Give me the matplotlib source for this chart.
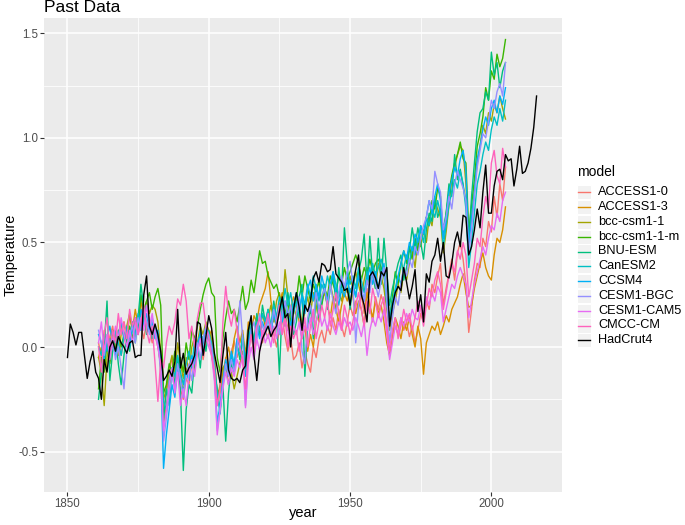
import matplotlib
matplotlib.use("Agg")
import matplotlib.pyplot as plt
import numpy as np
from matplotlib.lines import Line2D
from matplotlib.patches import Rectangle

plt.rcParams['font.family'] = ['Liberation Sans', 'DejaVu Sans']

# ---------------- data ----------------
model_years = list(range(1861, 2006))
obs_years = list(range(1850, 2017))

model_names = ["ACCESS1-0", "ACCESS1-3", "bcc-csm1-1", "bcc-csm1-1-m", "BNU-ESM",
               "CanESM2", "CCSM4", "CESM1-BGC", "CESM1-CAM5", "CMCC-CM", "HadCrut4"]
model_colors = ["#F8766D", "#D89000", "#A3A500", "#39B600", "#00BF7D",
                "#00BFC4", "#00B0F6", "#9590FF", "#E76BF3", "#FF62BC", "#000000"]

access1_0 = [0.02, -0.05, 0.08, -0.02, 0.05, 0.10, 0.00, 0.06, -0.04, 0.03,
             0.08, 0.02, 0.12, 0.05, 0.15, 0.10, 0.04, 0.12, 0.08, 0.02,
             0.06, 0.00, -0.08, -0.30, -0.22, -0.12, -0.05, -0.15, -0.10, -0.20,
             -0.25, -0.15, -0.18, -0.08, -0.12, -0.02, 0.03, -0.06, 0.02, 0.05,
             -0.02, -0.10, -0.28, -0.22, -0.15, -0.05, -0.10, -0.02, 0.03, -0.05,
             0.00, -0.08, -0.12, 0.02, 0.06, -0.03, 0.05, 0.10, 0.02, 0.08,
             0.04, 0.12, 0.06, 0.00, 0.08, 0.14, 0.05, -0.02, 0.04, -0.06,
             -0.04, 0.02, -0.10, -0.02, -0.08, -0.12, 0.00, -0.05, 0.04, 0.08,
             0.02, 0.10, 0.06, 0.14, 0.08, 0.18, 0.10, 0.05, 0.12, 0.20,
             0.15, 0.22, 0.18, 0.25, 0.16, 0.28, 0.20, 0.12, 0.24, 0.18,
             0.25, 0.20, 0.10, -0.02, 0.05, 0.10, 0.06, 0.14, 0.08, 0.12,
             0.05, 0.10, 0.02, 0.08, 0.16, 0.12, 0.22, 0.18, 0.30, 0.26,
             0.34, 0.40, 0.20, 0.28, 0.35, 0.42, 0.32, 0.45, 0.50, 0.42,
             0.30, 0.07, 0.18, 0.32, 0.40, 0.38, 0.52, 0.48, 0.60, 0.55,
             0.72, 0.62, 0.78, 0.70, 0.86]

access1_3 = [-0.05, 0.00, -0.08, 0.05, -0.02, 0.08, 0.03, -0.04, 0.06, 0.12,
             0.04, 0.15, 0.08, 0.18, 0.10, 0.22, 0.14, 0.20, 0.12, 0.06,
             0.10, 0.02, -0.10, -0.38, -0.28, -0.20, -0.12, -0.18, -0.06, -0.14,
             -0.22, -0.10, -0.16, -0.05, -0.10, 0.00, 0.06, 0.02, 0.10, 0.05,
             0.08, -0.05, -0.22, -0.20, -0.12, -0.06, 0.00, -0.08, 0.04, 0.10,
             0.02, 0.08, -0.04, 0.12, 0.06, 0.15, 0.12, 0.20, 0.24, 0.28,
             0.36, 0.22, 0.14, 0.10, 0.20, 0.26, 0.16, 0.08, 0.18, 0.24,
             0.20, 0.12, 0.04, 0.10, -0.02, 0.06, 0.00, 0.12, 0.18, 0.22,
             0.26, 0.20, 0.14, 0.24, 0.18, 0.12, 0.20, 0.26, 0.22, 0.28,
             0.24, 0.16, 0.22, 0.18, 0.10, 0.26, 0.20, 0.14, 0.22, 0.16,
             0.20, 0.12, 0.02, -0.04, 0.06, 0.14, 0.10, 0.04, 0.12, 0.08,
             0.14, 0.06, 0.00, 0.10, 0.04, -0.13, 0.02, 0.06, 0.10, 0.08,
             0.12, 0.06, 0.10, 0.15, 0.12, 0.18, 0.21, 0.24, 0.30, 0.35,
             0.26, 0.19, 0.20, 0.28, 0.34, 0.40, 0.45, 0.38, 0.34, 0.32,
             0.44, 0.52, 0.50, 0.56, 0.67]

bcc_csm1_1 = [-0.05, -0.12, -0.28, -0.05, 0.02, 0.08, -0.02, 0.06, 0.12, 0.04,
              0.10, 0.16, 0.08, 0.14, 0.06, 0.18, 0.12, 0.22, 0.16, 0.20,
              0.18, 0.12, -0.02, -0.25, -0.20, -0.10, -0.04, -0.12, 0.02, -0.08,
              -0.15, -0.05, -0.12, 0.00, 0.05, 0.02, 0.10, 0.06, 0.12, 0.08,
              0.04, -0.06, -0.25, -0.18, -0.10, -0.08, -0.18, -0.12, -0.20, -0.14,
              -0.08, -0.02, -0.10, 0.04, 0.10, 0.02, 0.12, 0.06, 0.16, 0.10,
              0.14, 0.20, 0.12, 0.22, 0.26, 0.18, 0.37, 0.24, 0.16, 0.20,
              0.14, 0.22, 0.10, 0.18, 0.24, 0.16, 0.26, 0.20, 0.12, 0.22,
              0.28, 0.20, 0.30, 0.24, 0.18, 0.26, 0.22, 0.30, 0.26, 0.34,
              0.28, 0.36, 0.30, 0.24, 0.32, 0.38, 0.30, 0.36, 0.28, 0.40,
              0.34, 0.28, 0.18, 0.08, 0.16, 0.22, 0.30, 0.26, 0.36, 0.32,
              0.40, 0.46, 0.38, 0.52, 0.48, 0.56, 0.50, 0.62, 0.58, 0.70,
              0.66, 0.62, 0.45, 0.55, 0.68, 0.80, 0.86, 0.92, 0.96, 0.94,
              0.78, 0.52, 0.62, 0.74, 0.88, 0.96, 1.06, 1.02, 1.12, 1.08,
              1.16, 1.12, 1.20, 1.14, 1.09]

bcc_csm1_1_m = [-0.20, -0.05, -0.12, 0.02, -0.08, 0.04, -0.02, 0.08, 0.00, 0.06,
                0.02, 0.10, 0.04, 0.12, 0.08, 0.25, 0.18, 0.22, 0.26, 0.18,
                0.24, 0.28, 0.20, -0.22, -0.18, -0.08, -0.12, -0.02, -0.10, -0.05,
                -0.12, 0.02, -0.06, 0.08, 0.04, 0.10, 0.18, 0.25, 0.30, 0.33,
                0.26, 0.24, -0.05, -0.12, 0.04, 0.14, 0.22, 0.16, 0.18, 0.12,
                0.20, 0.29, 0.18, 0.22, 0.32, 0.26, 0.36, 0.46, 0.40, 0.41,
                0.34, 0.31, 0.28, 0.30, 0.24, 0.20, 0.16, 0.22, 0.12, 0.18,
                0.22, 0.34, 0.24, 0.34, 0.28, 0.22, 0.30, 0.26, 0.32, 0.20,
                0.28, 0.24, 0.34, 0.30, 0.26, 0.34, 0.30, 0.38, 0.32, 0.36,
                0.40, 0.44, 0.40, 0.32, 0.38, 0.34, 0.42, 0.36, 0.40, 0.42,
                0.38, 0.34, 0.22, 0.14, 0.24, 0.36, 0.30, 0.40, 0.46, 0.40,
                0.48, 0.42, 0.52, 0.46, 0.58, 0.54, 0.62, 0.58, 0.70, 0.66,
                0.76, 0.72, 0.52, 0.64, 0.74, 0.82, 0.88, 0.92, 0.98, 0.90,
                0.88, 0.55, 0.68, 0.80, 0.96, 1.02, 1.10, 1.24, 1.18, 1.32,
                1.28, 1.40, 1.34, 1.38, 1.47]

bnu_esm = [-0.25, -0.12, 0.00, 0.22, -0.16, -0.02, 0.06, -0.08, -0.18, -0.04,
           0.06, -0.02, 0.10, 0.02, 0.14, 0.30, 0.18, 0.06, 0.12, 0.04,
           0.10, 0.02, -0.08, -0.35, -0.20, -0.28, -0.10, -0.18, -0.05, -0.22,
           -0.59, -0.30, -0.18, -0.22, -0.05, 0.02, -0.10, 0.05, -0.02, 0.08,
           0.00, -0.12, -0.20, -0.30, -0.18, -0.45, -0.22, -0.08, -0.12, 0.02,
           -0.06, 0.04, -0.10, 0.08, 0.12, 0.02, 0.16, 0.06, 0.20, 0.12,
           0.18, 0.08, 0.22, 0.14, -0.13, 0.20, 0.10, 0.26, 0.16, 0.06,
           0.12, 0.24, 0.30, -0.14, 0.10, 0.20, 0.04, 0.26, 0.14, 0.22,
           0.30, 0.18, 0.28, 0.34, 0.22, 0.38, 0.26, 0.57, 0.40, 0.18,
           0.30, 0.24, 0.36, 0.42, 0.54, 0.30, 0.53, 0.34, 0.28, 0.52,
           0.30, 0.52, 0.36, 0.20, 0.28, 0.34, 0.40, 0.44, 0.32, 0.38,
           0.46, 0.57, 0.48, 0.57, 0.50, 0.42, 0.56, 0.64, 0.60, 0.72,
           0.62, 0.66, 0.56, 0.64, 0.78, 0.72, 0.92, 0.80, 0.85, 0.77,
           0.70, 0.50, 0.72, 0.88, 1.03, 1.12, 1.14, 1.22, 1.18, 1.41,
           1.30, 1.36, 1.24, 1.32, 1.36]

canesm2 = [0.00, -0.04, 0.06, -0.02, 0.04, 0.00, 0.08, 0.02, -0.04, 0.05,
           0.10, 0.04, 0.12, 0.06, 0.16, 0.08, 0.14, 0.20, 0.12, 0.06,
           0.10, 0.04, -0.06, -0.26, -0.30, -0.16, -0.10, -0.14, -0.04, -0.12,
           -0.18, -0.08, -0.02, -0.10, 0.04, -0.02, 0.08, 0.02, 0.10, 0.06,
           0.02, -0.08, -0.22, -0.32, -0.18, -0.08, -0.14, -0.04, -0.10, 0.00,
           -0.04, 0.06, -0.06, 0.04, 0.10, 0.02, 0.12, 0.08, 0.16, 0.12,
           0.18, 0.10, 0.20, 0.14, 0.24, 0.18, 0.28, 0.20, 0.26, 0.16,
           0.22, 0.14, 0.26, 0.20, 0.30, 0.24, 0.34, 0.28, 0.22, 0.30,
           0.26, 0.34, 0.28, 0.36, 0.30, 0.24, 0.32, 0.28, 0.36, 0.30,
           0.34, 0.28, 0.38, 0.32, 0.26, 0.36, 0.30, 0.40, 0.34, 0.38,
           0.42, 0.36, 0.20, 0.14, 0.22, 0.28, 0.34, 0.30, 0.38, 0.44,
           0.40, 0.48, 0.44, 0.52, 0.56, 0.50, 0.62, 0.58, 0.66, 0.62,
           0.70, 0.64, 0.48, 0.58, 0.68, 0.74, 0.80, 0.76, 0.84, 0.78,
           0.66, 0.38, 0.50, 0.64, 0.78, 0.84, 0.92, 0.98, 0.94, 1.04,
           1.10, 1.06, 1.14, 1.08, 1.18]

ccsm4 = [0.06, 0.02, -0.06, 0.04, 0.10, 0.02, -0.04, 0.06, 0.12, 0.04,
         0.08, 0.00, 0.10, 0.14, 0.06, 0.18, 0.10, 0.16, 0.08, 0.12,
         0.04, 0.08, -0.10, -0.58, -0.42, -0.30, -0.18, -0.24, -0.10, -0.16,
         -0.22, -0.12, -0.16, -0.04, -0.08, 0.02, 0.06, -0.02, 0.08, 0.04,
         -0.02, -0.14, -0.36, -0.28, -0.16, -0.06, -0.12, -0.02, -0.08, 0.04,
         0.00, -0.06, -0.14, 0.02, 0.08, 0.00, 0.10, 0.04, 0.12, 0.08,
         0.14, 0.06, 0.16, 0.10, 0.20, 0.12, 0.22, 0.16, 0.10, 0.20,
         0.26, 0.18, 0.24, 0.16, 0.28, 0.32, 0.22, 0.30, 0.24, 0.34,
         0.28, 0.22, 0.30, 0.36, 0.26, 0.20, 0.28, 0.24, 0.32, 0.26,
         0.30, 0.24, 0.34, 0.28, 0.22, 0.32, 0.38, 0.30, 0.36, 0.28,
         0.34, 0.40, 0.24, 0.12, 0.18, 0.26, 0.34, 0.40, 0.46, 0.42,
         0.50, 0.46, 0.54, 0.50, 0.58, 0.54, 0.62, 0.70, 0.64, 0.72,
         0.78, 0.70, 0.52, 0.62, 0.74, 0.80, 0.86, 0.82, 0.90, 0.94,
         0.84, 0.48, 0.62, 0.74, 0.90, 0.96, 1.04, 1.10, 1.06, 1.14,
         1.18, 1.12, 1.20, 1.16, 1.24]

cesm1_bgc = [0.08, 0.02, -0.04, 0.06, -0.02, 0.04, -0.06, 0.00, -0.10, -0.20,
             -0.02, 0.06, 0.10, 0.02, 0.14, 0.08, 0.18, 0.12, 0.06, 0.14,
             0.08, 0.02, -0.12, -0.45, -0.34, -0.22, -0.14, -0.20, -0.08, -0.16,
             -0.24, -0.14, -0.08, -0.16, -0.04, 0.02, -0.06, 0.04, 0.10, 0.06,
             0.00, -0.10, -0.40, -0.30, -0.18, -0.08, -0.14, -0.06, -0.12, -0.02,
             0.22, 0.04, -0.28, -0.04, 0.08, 0.12, 0.04, 0.16, 0.10, 0.06,
             0.14, 0.08, 0.18, 0.12, 0.06, 0.16, 0.22, 0.14, 0.20, 0.10,
             0.16, 0.24, -0.02, -0.08, 0.14, 0.20, 0.12, 0.26, 0.18, 0.24,
             0.28, 0.20, 0.30, 0.22, 0.16, 0.26, 0.34, 0.28, 0.36, 0.41,
             0.30, 0.02, 0.20, 0.28, 0.22, 0.32, 0.26, 0.36, 0.30, 0.24,
             0.32, 0.38, 0.22, 0.02, 0.14, 0.24, 0.20, 0.30, 0.38, 0.34,
             0.42, 0.38, 0.48, 0.44, 0.52, 0.58, 0.62, 0.70, 0.66, 0.84,
             0.78, 0.74, 0.56, 0.62, 0.72, 0.66, 0.78, 0.84, 0.80, 0.76,
             0.70, 0.45, 0.56, 0.72, 0.86, 0.94, 1.02, 1.00, 1.08, 1.18,
             1.14, 1.22, 1.26, 1.20, 1.36]

cesm1_cam5 = [0.02, 0.12, -0.02, 0.06, -0.06, 0.02, 0.10, 0.04, 0.14, 0.06,
              0.00, 0.08, 0.02, 0.12, 0.06, 0.14, 0.08, 0.20, 0.10, 0.16,
              0.06, 0.00, -0.08, -0.40, -0.30, -0.18, -0.10, -0.22, -0.12, -0.28,
              -0.20, -0.28, -0.12, -0.06, -0.14, -0.02, 0.04, -0.04, 0.06, 0.00,
              -0.04, -0.16, -0.42, -0.30, -0.20, -0.12, -0.18, -0.10, -0.14, -0.06,
              -0.10, -0.04, -0.29, -0.08, 0.00, -0.06, 0.04, -0.02, 0.08, 0.02,
              0.06, 0.00, 0.10, 0.04, 0.12, 0.06, 0.14, 0.08, 0.02, 0.10,
              0.06, 0.12, 0.04, 0.10, 0.08, 0.14, 0.06, 0.12, 0.18, 0.10,
              0.14, 0.08, 0.16, 0.10, 0.06, 0.12, 0.08, 0.14, 0.10, 0.12,
              0.08, 0.14, 0.10, 0.05, 0.12, -0.04, 0.08, 0.14, 0.10, 0.16,
              0.12, 0.18, 0.06, -0.06, 0.02, 0.10, 0.06, 0.14, 0.10, 0.16,
              0.12, 0.18, 0.14, 0.13, 0.20, 0.16, 0.24, 0.20, 0.26, 0.22,
              0.29, 0.26, 0.12, 0.18, 0.24, 0.30, 0.28, 0.34, 0.38, 0.34,
              0.30, 0.14, 0.22, 0.30, 0.36, 0.42, 0.48, 0.44, 0.52, 0.58,
              0.56, 0.64, 0.60, 0.70, 0.74]

cmcc_cm = [0.00, -0.12, 0.06, 0.14, -0.02, 0.08, 0.02, 0.16, 0.06, 0.12,
           0.04, 0.18, 0.10, 0.14, 0.06, 0.12, 0.20, 0.08, 0.02, 0.10,
           -0.08, -0.26, -0.06, -0.10, 0.02, 0.10, 0.06, 0.12, 0.23, 0.20,
           0.30, 0.22, 0.04, 0.10, 0.00, 0.14, 0.21, 0.21, 0.10, 0.04,
           -0.04, -0.12, -0.28, -0.20, 0.12, 0.29, 0.16, 0.10, 0.18, 0.08,
           0.00, -0.06, -0.20, -0.04, 0.06, -0.02, 0.10, 0.14, 0.04, 0.10,
           0.16, 0.08, 0.02, 0.12, 0.20, 0.06, 0.14, 0.00, 0.10, 0.04,
           0.08, -0.02, 0.06, 0.14, 0.00, 0.10, 0.18, 0.04, 0.12, 0.20,
           0.14, 0.22, 0.10, 0.18, 0.26, 0.16, 0.08, 0.20, 0.14, 0.06,
           0.12, 0.20, 0.26, 0.18, 0.10, 0.22, 0.16, 0.28, 0.22, 0.14,
           0.20, 0.24, 0.10, -0.02, 0.08, 0.14, 0.04, 0.10, 0.18, 0.12,
           0.16, 0.08, 0.14, 0.22, 0.18, 0.10, 0.20, 0.28, 0.24, 0.32,
           0.36, 0.30, 0.18, 0.26, 0.34, 0.40, 0.36, 0.46, 0.42, 0.50,
           0.44, 0.24, 0.32, 0.40, 0.52, 0.48, 0.62, 0.72, 0.66, 0.88,
           0.94, 0.82, 0.78, 0.95, 0.86]

hadcrut4 = [-0.05, 0.11, 0.07, 0.01, 0.07, 0.07, -0.04, -0.15, -0.07, -0.02,
            -0.12, -0.15, -0.25, -0.06, -0.12, 0.00, 0.03, -0.02, 0.05, 0.02,
            0.00, -0.03, 0.02, 0.03, -0.05, -0.04, -0.04, 0.25, 0.34, 0.10,
            0.06, 0.11, 0.06, -0.02, -0.16, -0.14, -0.11, -0.14, -0.07, 0.18,
            -0.10, -0.03, -0.13, -0.10, -0.08, -0.04, 0.12, 0.11, -0.04, 0.05,
            0.15, 0.09, -0.03, -0.10, -0.17, -0.04, 0.07, -0.11, -0.15, -0.16,
            -0.15, -0.17, -0.11, -0.09, 0.08, 0.15, -0.04, -0.16, -0.02, 0.04,
            0.07, 0.10, 0.05, 0.08, 0.10, 0.17, 0.24, 0.14, 0.16, 0.00,
            0.18, 0.26, 0.19, 0.08, 0.20, 0.17, 0.22, 0.33, 0.36, 0.31,
            0.40, 0.39, 0.36, 0.37, 0.48, 0.35, 0.33, 0.31, 0.27, 0.28,
            0.20, 0.30, 0.37, 0.44, 0.25, 0.20, 0.12, 0.34, 0.36, 0.33,
            0.28, 0.36, 0.34, 0.38, 0.10, 0.20, 0.26, 0.29, 0.27, 0.38,
            0.31, 0.23, 0.29, 0.37, 0.17, 0.25, 0.12, 0.35, 0.31, 0.41,
            0.44, 0.52, 0.41, 0.50, 0.34, 0.33, 0.40, 0.50, 0.55, 0.48,
            0.63, 0.62, 0.44, 0.48, 0.56, 0.66, 0.57, 0.74, 0.87, 0.64,
            0.64, 0.77, 0.84, 0.85, 0.80, 0.92, 0.89, 0.90, 0.77, 0.85,
            0.96, 0.83, 0.84, 0.88, 0.95, 1.05, 1.20]

series = [access1_0, access1_3, bcc_csm1_1, bcc_csm1_1_m, bnu_esm, canesm2,
          ccsm4, cesm1_bgc, cesm1_cam5, cmcc_cm, hadcrut4]
series_years = [model_years] * 10 + [obs_years]

x_ticks = [1850, 1900, 1950, 2000]
y_ticks = [-0.5, 0.0, 0.5, 1.0, 1.5]
y_tick_labels = ["-0.5", "0.0", "0.5", "1.0", "1.5"]

# ---------------- figure ----------------
W, H = 685, 525
fig = plt.figure(figsize=(W / 100, H / 100), dpi=100)
fig.patch.set_facecolor("white")

pl, pr, pt, pb = 44, 562, 18, 492
ax = fig.add_axes([pl / W, 1 - pb / H, (pr - pl) / W, (pb - pt) / H])
ax.set_facecolor("#EBEBEB")

for yrs, vals, col in zip(series_years, series, model_colors):
    ax.plot(yrs, vals, color=col, lw=1.0, solid_joinstyle="round", zorder=3)

# ggplot-like expansion (5 %)
allx = [x for ys in series_years for x in ys]
ally = [v for s in series for v in s]
xr = max(allx) - min(allx)
yr = max(ally) - min(ally)
ax.set_xlim(min(allx) - 0.05 * xr, max(allx) + 0.05 * xr)
ax.set_ylim(min(ally) - 0.05 * yr, max(ally) + 0.05 * yr)

ax.set_xticks(x_ticks)
ax.set_yticks(y_ticks)
ax.set_yticklabels(y_tick_labels)
ax.set_xticks([1875, 1925, 1975, 2025], minor=True)
ax.set_yticks([-0.25, 0.25, 0.75, 1.25], minor=True)
ax.grid(which="major", color="white", lw=1.1, zorder=0)
ax.grid(which="minor", color="white", lw=0.55, zorder=0)
ax.set_axisbelow(True)
for s in ax.spines.values():
    s.set_visible(False)
ax.tick_params(which="major", length=2.7, width=0.8, color="#333333",
               labelcolor="#4D4D4D", labelsize=8.3, pad=1.6)
ax.tick_params(which="minor", length=0)

fig.text((pl + pr) / 2 / W, 1 - 513 / H, "year", fontsize=10.5,
         ha="center", va="center")
fig.text(11 / W, 1 - (pt + pb) / 2 / H, "Temperature", fontsize=10.5,
         ha="center", va="center", rotation=90)
fig.text(pl / W, 1 - 8 / H, "Past Data", fontsize=12.5, ha="left", va="center")

# ---------------- legend (manual, ggplot style) ----------------
lax = fig.add_axes([0, 0, 1, 1])
lax.set_xlim(0, W)
lax.set_ylim(H, 0)
lax.axis("off")
lax.text(577, 172, "model", fontsize=10, ha="left", va="center")
key_x0, key_w, key_h = 577, 14.3, 14.3
y0, dy = 192.3, 14.8
for i, (name, col) in enumerate(zip(model_names, model_colors)):
    yc = y0 + i * dy
    lax.add_patch(Rectangle((key_x0, yc - key_h / 2), key_w, key_h,
                            facecolor="#F2F2F2", edgecolor="white", lw=0.8))
    lax.add_line(Line2D([key_x0 + 1.5, key_x0 + key_w - 1.5], [yc, yc],
                        color=col, lw=1.0))
    lax.text(598, yc, name, fontsize=9.2, ha="left", va="center", color="black")

fig.savefig("out.png", dpi=100)
